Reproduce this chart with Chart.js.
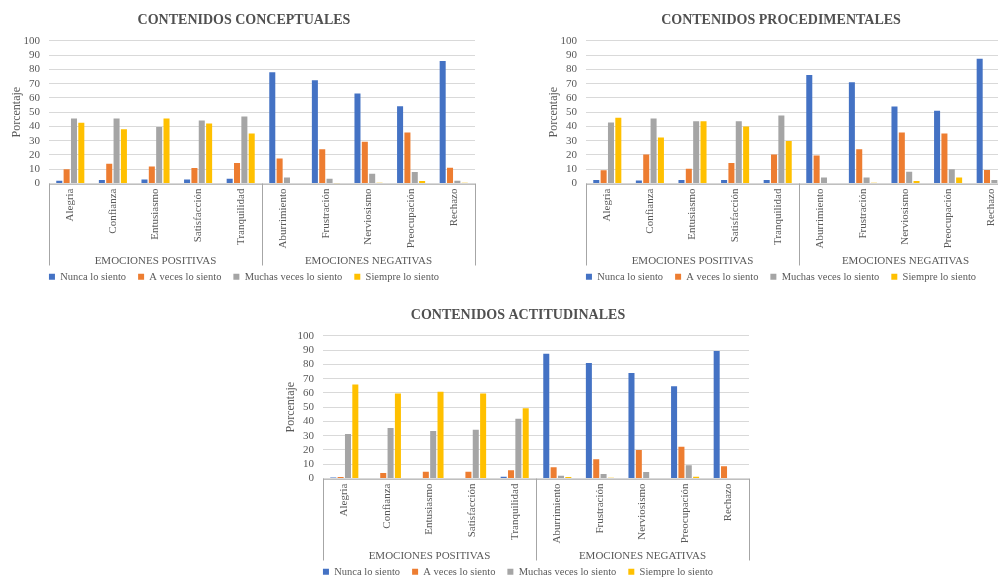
<!DOCTYPE html>
<html>
<head>
<meta charset="utf-8">
<script src="https://cdn.jsdelivr.net/npm/chart.js@4.4.1/dist/chart.umd.min.js"></script>
<style>
  body { margin: 0; background: #fff; width: 998px; height: 577px; overflow: hidden; position: relative; }
  canvas { position: absolute; }
</style>
</head>
<body>
<canvas id="conceptuales" width="488" height="292" style="left:0;top:0"></canvas>
<canvas id="procedimentales" width="488" height="292" style="left:537px;top:0"></canvas>
<canvas id="actitudinales" width="488" height="292" style="left:274px;top:295px"></canvas>
<script>
const categorias = ['Alegria', 'Confianza', 'Entusiasmo', 'Satisfacción', 'Tranquilidad',
  'Aburrimiento', 'Frustración', 'Nerviosismo', 'Preocupación', 'Rechazo'];
const grupos = ['EMOCIONES POSITIVAS', 'EMOCIONES NEGATIVAS'];
const series = ['Nunca lo siento', 'A veces lo siento', 'Muchas veces lo siento', 'Siempre lo siento'];
const yTicks = [0, 10, 20, 30, 40, 50, 60, 70, 80, 90, 100];

// CONTENIDOS CONCEPTUALES
const conceptualesNunca    = [2, 2.5, 2.8, 2.8, 3.3, 78, 72.4, 63, 54.2, 85.8];
const conceptualesAVeces   = [9.9, 13.9, 12, 10.8, 14.4, 17.5, 24, 29.2, 35.8, 11];
const conceptualesMuchas   = [45.5, 45.5, 39.6, 44.1, 46.9, 4.2, 3.3, 6.8, 8, 1.9];
const conceptualesSiempre  = [42.5, 38, 45.5, 42, 35.1, 0, 0.2, 0.5, 1.7, 0.5];

// CONTENIDOS PROCEDIMENTALES
const procedimentalesNunca   = [2.4, 2.1, 2.4, 2.4, 2.4, 76, 71, 54, 51, 87.5];
const procedimentalesAVeces  = [9.2, 20.3, 10.4, 14.4, 20.3, 19.6, 24, 35.8, 35.1, 9.4];
const procedimentalesMuchas  = [42.7, 45.5, 43.6, 43.6, 47.6, 4.2, 4.2, 8.3, 9.9, 2.4];
const procedimentalesSiempre = [46, 32.3, 43.6, 39.9, 29.7, 0, 0.5, 1.7, 4.2, 0];

// CONTENIDOS ACTITUDINALES
const actitudinalesNunca   = [0.7, 0, 0, 0, 1.2, 87.4, 81, 73.9, 64.6, 89.3];
const actitudinalesAVeces  = [1, 3.8, 4.8, 4.8, 5.7, 7.8, 13.5, 20, 22.3, 8.6];
const actitudinalesMuchas  = [31.1, 35.4, 33.3, 34.2, 41.8, 1.9, 3.1, 4.5, 9.3, 0];
const actitudinalesSiempre = [65.8, 59.6, 60.8, 59.6, 49.2, 1, 0.5, 0, 1.2, 0];

const colores = ['#4472C4', '#ED7D31', '#A5A5A5', '#FFC000'];
const fuente = 'Liberation Serif, Times New Roman, serif';
const gris = '#595959';

// brackets of the two-level category axis
const lineasGrupo = {
  id: 'lineasGrupo',
  afterDraw(chart) {
    const { ctx, chartArea: a, scales } = chart;
    const fondo = a.bottom + 82;
    const medio = (scales.x.getPixelForValue(4) + scales.x.getPixelForValue(5)) / 2;
    ctx.save();
    ctx.lineWidth = 1;
    ctx.strokeStyle = '#BFBFBF';
    ctx.beginPath();
    ctx.moveTo(a.left, Math.round(a.bottom) + 0.5);
    ctx.lineTo(a.right, Math.round(a.bottom) + 0.5);
    ctx.stroke();
    ctx.strokeStyle = '#A6A6A6';
    ctx.beginPath();
    [a.left, medio, a.right].forEach(x => {
      ctx.moveTo(Math.round(x) + 0.5, a.bottom);
      ctx.lineTo(Math.round(x) + 0.5, fondo);
    });
    ctx.stroke();
    ctx.restore();
  }
};

function dibujar(id, titulo, valores) {
  new Chart(document.getElementById(id), {
    type: 'bar',
    data: {
      labels: categorias,
      datasets: valores.map((v, i) => ({
        label: series[i],
        data: v,
        backgroundColor: colores[i],
        borderWidth: 0,
        barPercentage: 0.82,
        categoryPercentage: 0.69
      }))
    },
    options: {
      responsive: false,
      animation: false,
      layout: { padding: 0 },
      plugins: {
        title: {
          display: true,
          text: titulo,
          color: '#505050',
          font: { family: fuente, size: 14, weight: 'bold' },
          padding: { top: 12, bottom: 12 }
        },
        legend: {
          position: 'bottom',
          labels: {
            boxWidth: 6,
            boxHeight: 6,
            padding: 12,
            color: gris,
            font: { family: fuente, size: 10.5 }
          }
        },
        tooltip: { enabled: false }
      },
      scales: {
        x: {
          grid: { display: false },
          border: { display: false },
          ticks: {
            color: gris,
            font: { family: fuente, size: 11 },
            minRotation: 90,
            maxRotation: 90,
            autoSkip: false,
            padding: -3
          },
          afterFit(s) { s.height = 76; }
        },
        x2: {
          type: 'category',
          axis: 'x',
          labels: grupos,
          position: { y: 0 },
          offset: true,
          grid: { display: false, drawTicks: false },
          border: { display: false },
          ticks: { color: gris, font: { family: fuente, size: 11 }, padding: 71 },
          afterFit(s) { s.paddingLeft = 0; s.paddingRight = 0; s.paddingTop = 0; s.paddingBottom = 0; }
        },
        y: {
          min: 0,
          max: 100,
          afterBuildTicks(s) { s.ticks = yTicks.map(v => ({ value: v })); },
          grid: { color: '#D9D9D9', drawTicks: false },
          border: { display: false },
          ticks: { color: gris, font: { family: fuente, size: 11 }, padding: 9, autoSkip: false },
          title: {
            display: true,
            text: 'Porcentaje',
            color: gris,
            font: { family: fuente, size: 12 },
            padding: { top: 10, bottom: 0 }
          },
          afterFit(s) { s.width = 49; }
        },
        yr: {
          position: 'right',
          grid: { display: false },
          border: { display: false },
          ticks: { display: false },
          afterFit(s) { s.width = 13; }
        }
      }
    },
    plugins: [lineasGrupo]
  });
}

dibujar('conceptuales', 'CONTENIDOS CONCEPTUALES',
  [conceptualesNunca, conceptualesAVeces, conceptualesMuchas, conceptualesSiempre]);
dibujar('procedimentales', 'CONTENIDOS PROCEDIMENTALES',
  [procedimentalesNunca, procedimentalesAVeces, procedimentalesMuchas, procedimentalesSiempre]);
dibujar('actitudinales', 'CONTENIDOS ACTITUDINALES',
  [actitudinalesNunca, actitudinalesAVeces, actitudinalesMuchas, actitudinalesSiempre]);
</script>
</body>
</html>
